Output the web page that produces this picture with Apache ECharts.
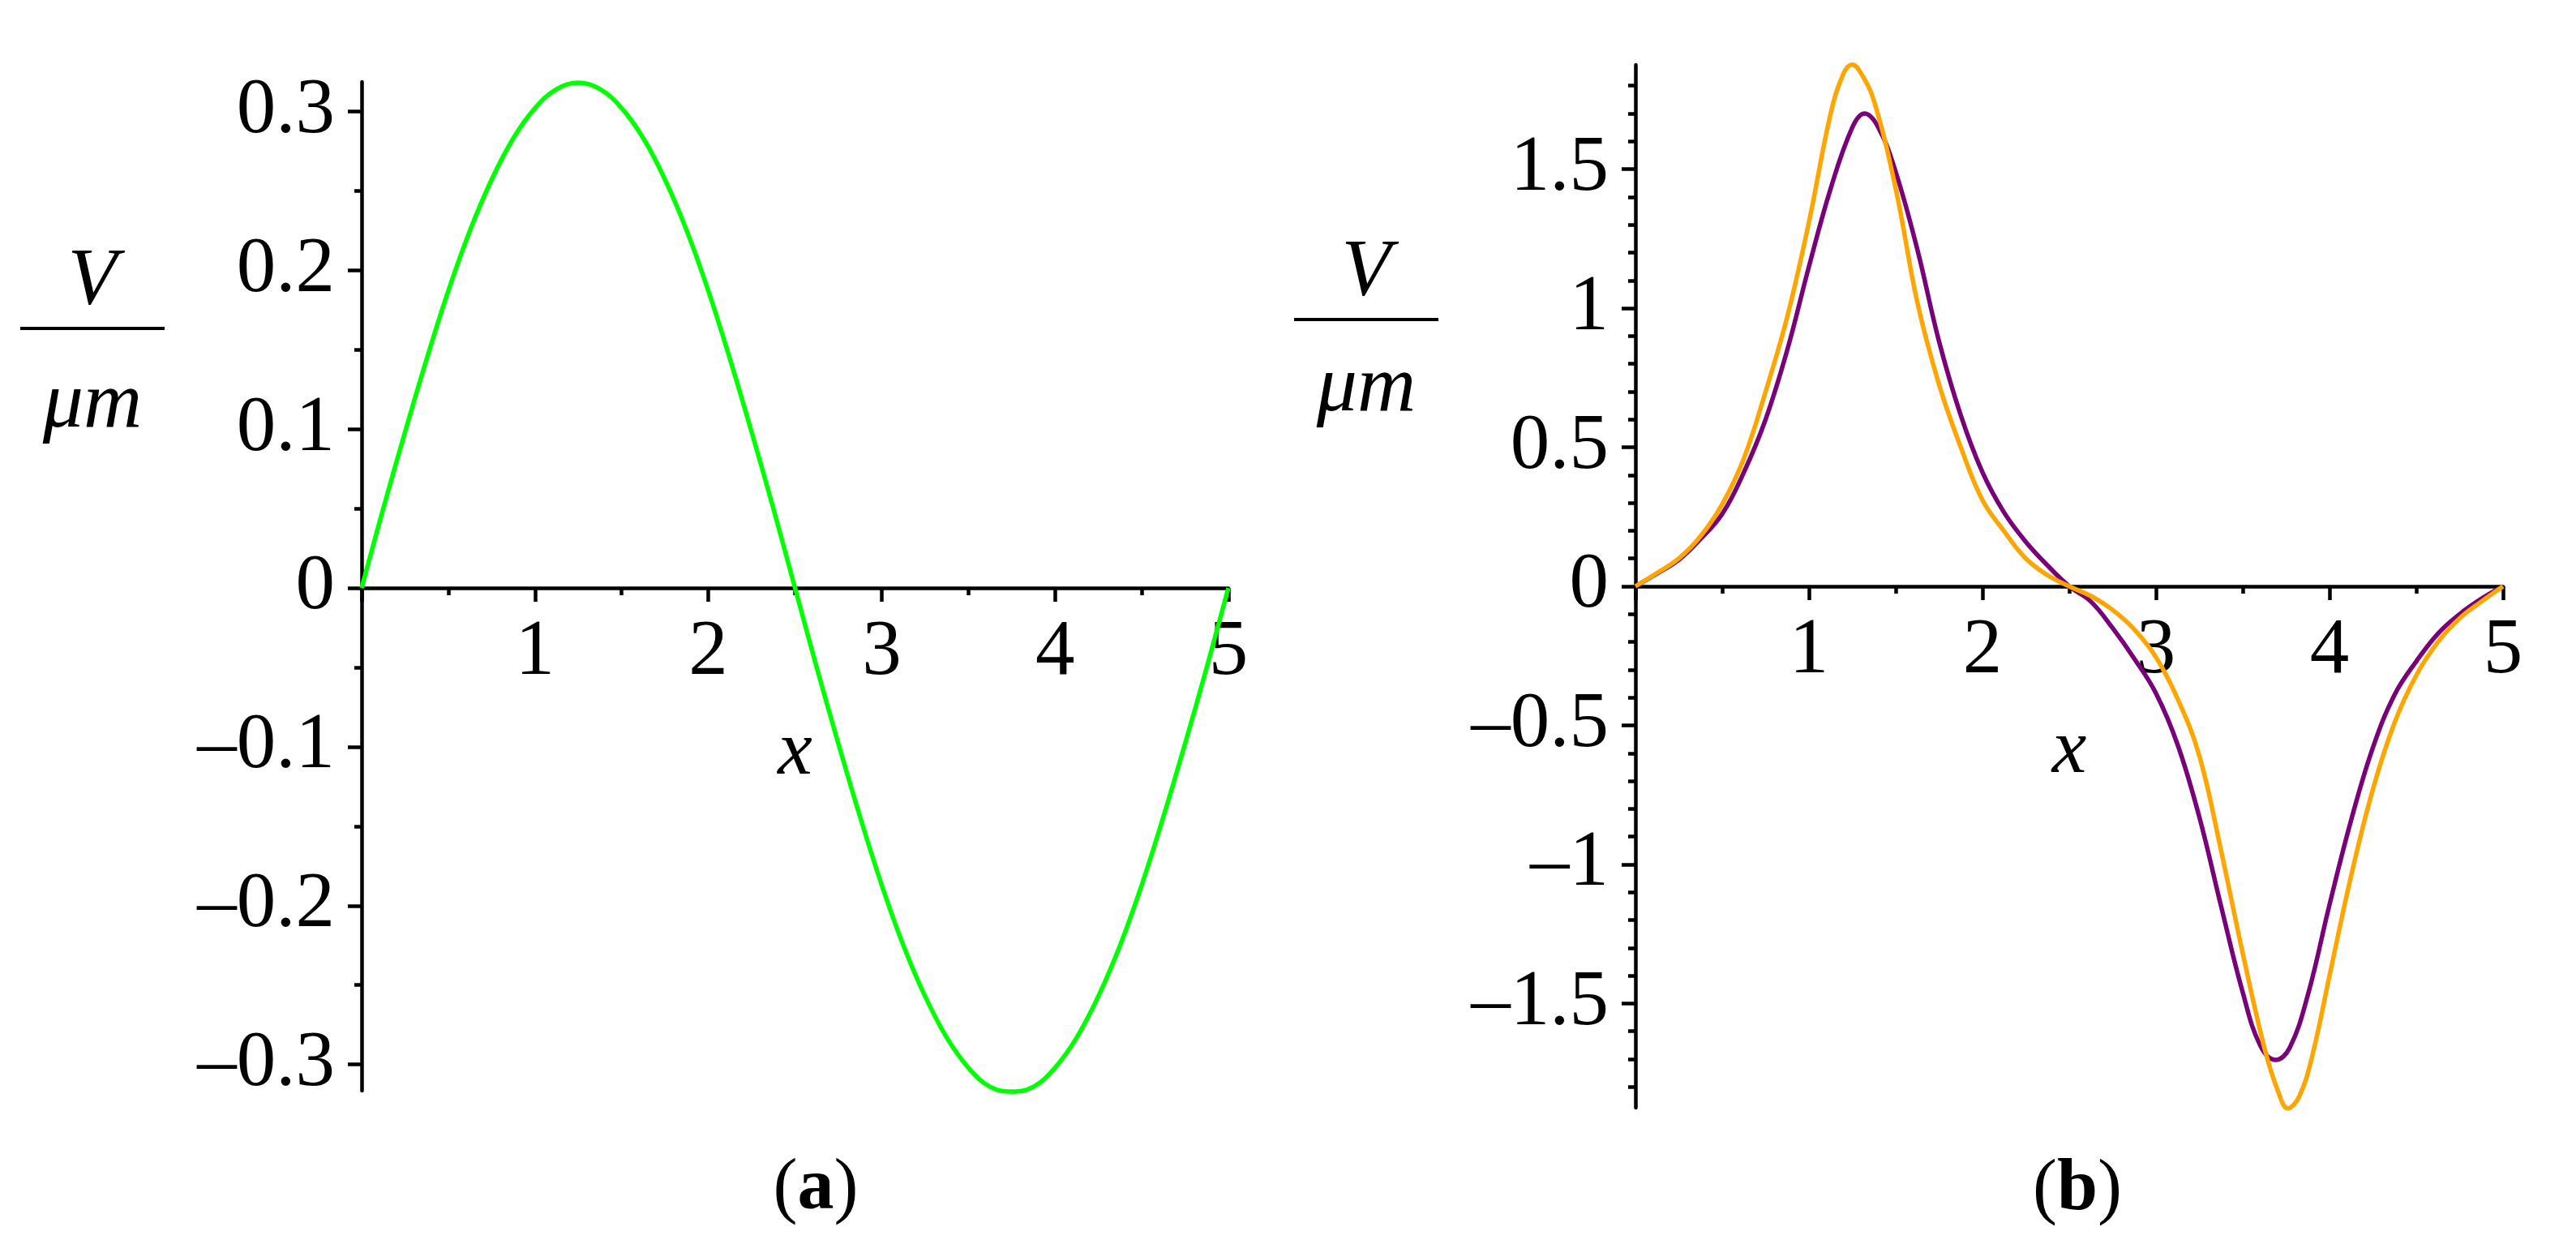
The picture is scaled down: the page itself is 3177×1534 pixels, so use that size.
<!DOCTYPE html>
<html>
<head>
<meta charset="utf-8">
<script src="https://cdn.jsdelivr.net/npm/echarts@6/dist/echarts.min.js"></script>
<style>
  html, body { margin: 0; padding: 0; background: #fff; }
  #chart { width: 3177px; height: 1534px; }
</style>
</head>
<body>
<div id="chart"></div>
<script>
(function () {
  'use strict';

  // panel (a): single green curve
  const greenX = [0, 0.125, 0.25, 0.375, 0.5, 0.625, 0.75, 0.875, 1, 1.125, 1.25, 1.375, 1.5, 1.625, 1.75, 1.875, 2, 2.125, 2.25, 2.375,
    2.5, 2.625, 2.75, 2.875, 3, 3.125, 3.25, 3.375, 3.5, 3.625, 3.75, 3.875, 4, 4.125, 4.25, 4.375, 4.5, 4.625, 4.75, 4.875, 5];
  const greenV = [0, 0.05, 0.098, 0.144, 0.187, 0.225, 0.257, 0.283, 0.302, 0.314, 0.318, 0.314, 0.302, 0.283, 0.257, 0.225, 0.187, 0.144, 0.098, 0.05,
    0, -0.05, -0.098, -0.144, -0.187, -0.225, -0.257, -0.283, -0.302, -0.314, -0.317, -0.314, -0.302, -0.283, -0.257, -0.225, -0.187, -0.144, -0.098, -0.05, 0];

  // panel (b): purple and orange curves
  const purpleX = [0, 0.125, 0.25, 0.375, 0.5, 0.625, 0.75, 0.875, 1, 1.125, 1.25, 1.32, 1.4, 1.5, 1.625, 1.75, 1.875, 2, 2.125, 2.25, 2.375,
    2.5, 2.625, 2.75, 2.875, 3, 3.125, 3.25, 3.375, 3.5, 3.6, 3.69, 3.77, 3.875, 4, 4.125, 4.25, 4.375, 4.5, 4.625, 4.75, 4.875, 5];
  const purpleV = [0, 0.046, 0.095, 0.17, 0.26, 0.41, 0.6, 0.85, 1.15, 1.43, 1.65, 1.7, 1.65, 1.49, 1.21, 0.88, 0.615, 0.41, 0.265, 0.16, 0.075,
    0, -0.055, -0.15, -0.26, -0.385, -0.57, -0.83, -1.15, -1.46, -1.65, -1.703, -1.66, -1.47, -1.145, -0.84, -0.58, -0.39, -0.27, -0.17, -0.1, -0.045, 0];

  const orangeX = [0, 0.125, 0.25, 0.375, 0.5, 0.625, 0.75, 0.875, 1, 1.125, 1.2, 1.25, 1.3, 1.375, 1.5, 1.625, 1.75, 1.875, 2, 2.125, 2.25, 2.375,
    2.5, 2.625, 2.75, 2.875, 3, 3.125, 3.25, 3.375, 3.5, 3.625, 3.7, 3.76, 3.825, 3.9, 4, 4.125, 4.25, 4.375, 4.5, 4.625, 4.75, 4.875, 5];
  const orangeV = [0, 0.048, 0.1, 0.18, 0.295, 0.46, 0.7, 0.97, 1.31, 1.7, 1.845, 1.876, 1.845, 1.745, 1.43, 1.02, 0.725, 0.5, 0.31, 0.198, 0.1, 0.04,
    0, -0.035, -0.085, -0.155, -0.255, -0.405, -0.61, -0.95, -1.32, -1.66, -1.81, -1.877, -1.835, -1.69, -1.4, -1.04, -0.73, -0.49, -0.32, -0.2, -0.115, -0.055, 0];

  // tick values
  const xTicks = [1, 2, 3, 4, 5];
  const aMajor = [-0.3, -0.2, -0.1, 0, 0.1, 0.2, 0.3];
  const aMinor = [-0.25, -0.15, -0.05, 0.05, 0.15, 0.25];
  const bMajor = [-1.5, -1, -0.5, 0, 0.5, 1, 1.5];
  const bMinor = [-1.8, -1.7, -1.6, -1.4, -1.3, -1.2, -1.1, -0.9, -0.8, -0.7, -0.6, -0.4, -0.3, -0.2, -0.1,
    0.1, 0.2, 0.3, 0.4, 0.6, 0.7, 0.8, 0.9, 1.1, 1.2, 1.3, 1.4, 1.6, 1.7, 1.8];

  const FONT = "'Liberation Serif', 'Times New Roman', serif";
  const INK = '#000';
  const AXIS_W = 4.5;

  function pairs(xs, ys) {
    return xs.map(function (x, i) { return [x, ys[i]]; });
  }

  function fmtY(v) {
    if (v === 0) return '0';
    return (v < 0 ? '\u2013' : '') + Math.abs(v);
  }

  // the x axis line + ticks, sitting on y = 0
  function xLine(gridIndex) {
    return {
      type: 'value', gridIndex: gridIndex, min: 0, max: 5, interval: 1,
      axisLine: { onZero: true, lineStyle: { color: INK, width: AXIS_W } },
      axisTick: { show: true, length: 17, lineStyle: { color: INK, width: AXIS_W } },
      minorTick: { show: true, splitNumber: 2, length: 9, lineStyle: { color: INK, width: AXIS_W } },
      splitLine: { show: false },
      axisLabel: { show: false }
    };
  }

  // tick labels and the x name, in a helper grid whose bottom is the zero line
  function xLabels(gridIndex) {
    return {
      type: 'value', gridIndex: gridIndex, min: 0, max: 5, interval: 1, position: 'bottom',
      name: 'x', nameLocation: 'middle', nameGap: 156,
      nameTextStyle: { fontFamily: FONT, fontStyle: 'italic', fontWeight: 400, fontSize: 96, color: INK },
      axisLine: { show: false, onZero: false },
      axisTick: { show: false },
      splitLine: { show: false },
      axisLabel: {
        fontFamily: FONT, fontSize: 97, color: INK, margin: 32,
        customValues: xTicks,
        formatter: function (v) { return String(v); }
      }
    };
  }

  function yMajor(gridIndex, min, max, ticks) {
    return {
      type: 'value', gridIndex: gridIndex, min: min, max: max, position: 'left',
      axisLine: { show: true, onZero: false, lineStyle: { color: INK, width: AXIS_W } },
      axisTick: { show: true, length: 17, customValues: ticks, lineStyle: { color: INK, width: AXIS_W } },
      splitLine: { show: false },
      axisLabel: {
        fontFamily: FONT, fontSize: 97, color: INK, margin: 33,
        customValues: ticks, formatter: fmtY
      }
    };
  }

  function yMinor(gridIndex, min, max, ticks) {
    return {
      type: 'value', gridIndex: gridIndex, min: min, max: max, position: 'left',
      axisLine: { show: false, onZero: false },
      axisTick: { show: true, length: 9, customValues: ticks, lineStyle: { color: INK, width: AXIS_W } },
      splitLine: { show: false },
      axisLabel: { show: false }
    };
  }

  function yHidden(gridIndex) {
    return { type: 'value', gridIndex: gridIndex, min: 0, max: 1, show: false };
  }

  function curve(xi, yi, xs, ys, color) {
    return {
      type: 'line', xAxisIndex: xi, yAxisIndex: yi,
      data: pairs(xs, ys),
      showSymbol: false, smooth: 0.4, clip: false,
      lineStyle: { color: color, width: 5.5 },
      silent: true
    };
  }

  function fracRich(mLine) {
    return {
      v: { fontFamily: FONT, fontStyle: 'italic', fontWeight: 400, fontSize: 100, color: INK, width: 178, align: 'center', lineHeight: 94 },
      bar: { width: 178, height: 4, lineHeight: 20, backgroundColor: INK },
      m: { fontFamily: FONT, fontStyle: 'italic', fontWeight: 400, fontSize: 100, color: INK, width: 178, align: 'center', lineHeight: mLine }
    };
  }
  const capRich = {
    p: { fontFamily: FONT, fontSize: 90, fontWeight: 400, color: INK },
    b: { fontFamily: FONT, fontSize: 90, fontWeight: 700, color: INK }
  };
  const titleText = { fontWeight: 400, color: INK };

  const option = {
    animation: false,
    backgroundColor: '#fff',
    title: [
      { text: '{v|V}\n{bar|}\n{m|\u03BCm}', left: 25, top: 301, padding: 0, textStyle: Object.assign({ rich: fracRich(170) }, titleText) },
      { text: '{v|V}\n{bar|}\n{m|\u03BCm}', left: 1596, top: 290, padding: 0, textStyle: Object.assign({ rich: fracRich(152) }, titleText) },
      { text: '{p|(}{b|a}{p|)}', left: 1006, top: 1467, padding: 0, textAlign: 'center', textVerticalAlign: 'middle', textStyle: Object.assign({ rich: capRich }, titleText) },
      { text: '{p|(}{b|b}{p|)}', left: 2562, top: 1468, padding: 0, textAlign: 'center', textVerticalAlign: 'middle', textStyle: Object.assign({ rich: capRich }, titleText) }
    ],
    grid: [
      { left: 446, top: 101, width: 1069, height: 1244, outerBoundsMode: 'none', containLabel: false },
      { left: 2017, top: 80, width: 1070, height: 1286, outerBoundsMode: 'none', containLabel: false },
      { left: 446, top: 101, width: 1069, height: 624, outerBoundsMode: 'none', containLabel: false },
      { left: 2017, top: 80, width: 1070, height: 643, outerBoundsMode: 'none', containLabel: false }
    ],
    xAxis: [xLine(0), xLine(1), xLabels(2), xLabels(3)],
    yAxis: [
      yMajor(0, -0.3165, 0.3185, aMajor),
      yMinor(0, -0.3165, 0.3185, aMinor),
      yMajor(1, -1.875, 1.875, bMajor),
      yMinor(1, -1.875, 1.875, bMinor),
      yHidden(2),
      yHidden(3)
    ],
    series: [
      curve(0, 0, greenX, greenV, '#00FF00'),
      curve(1, 2, purpleX, purpleV, '#780078'),
      curve(1, 2, orangeX, orangeV, '#FFA500')
    ]
  };

  const chart = echarts.init(document.getElementById('chart'), null, { renderer: 'canvas' });
  chart.setOption(option);
})();
</script>
</body>
</html>
